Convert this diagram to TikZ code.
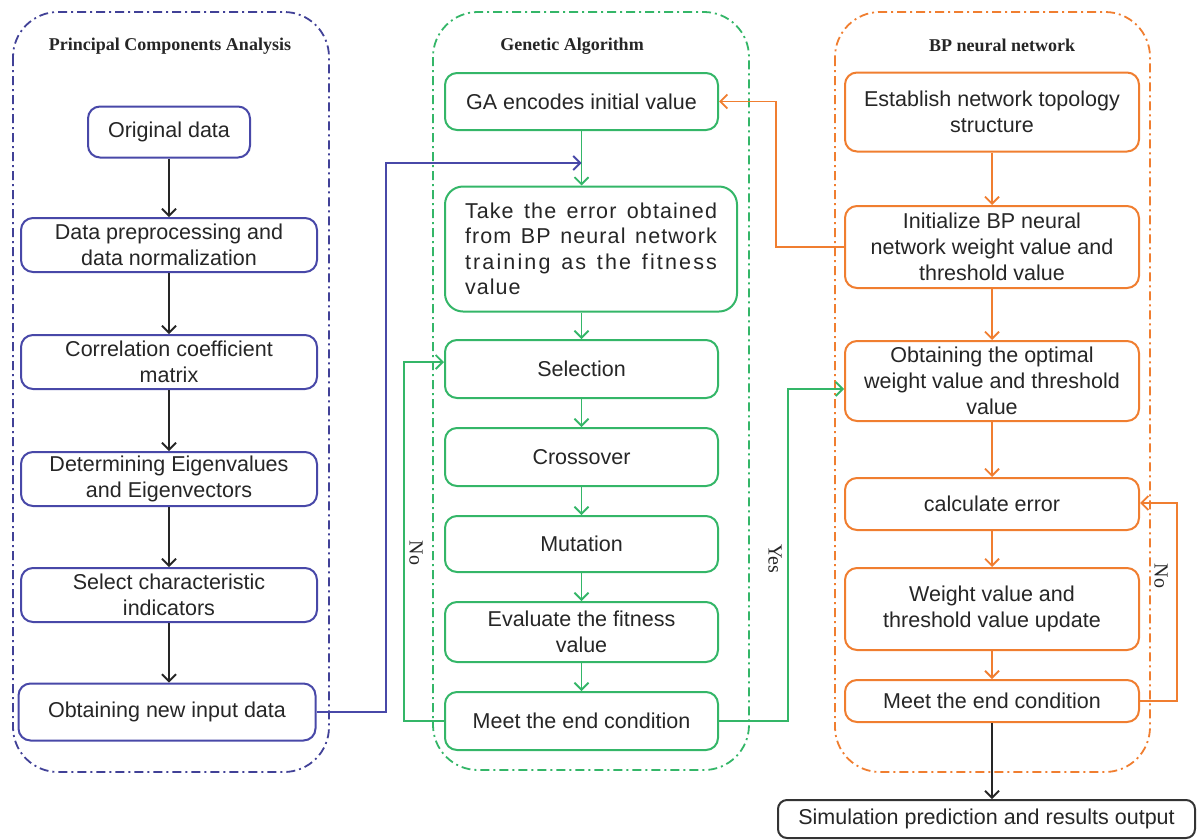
\documentclass[tikz,border=0pt]{standalone}
\usepackage{amsmath}
\usepackage{fontspec}
\setmainfont{Liberation Serif}
\setsansfont{Liberation Sans}
\usepackage{xcolor}
\usepackage{tikz}
\usetikzlibrary{arrows.meta,calc,positioning}
\definecolor{pcablue}{RGB}{72,72,168}
\definecolor{gagreen}{RGB}{52,182,104}
\definecolor{bporange}{RGB}{240,126,48}

\begin{document}
\begin{tikzpicture}[x=1pt, y=-1pt,
    box/.style={draw=#1, rounded corners=12pt, line width=2pt, fill=white, text=black!85, align=center, inner sep=0pt,
        font=\sffamily\fontsize{21.5}{26}\selectfont},
    panel/.style={line width=1.8pt, rounded corners=45pt, dash pattern=on 9pt off 4pt on 2pt off 4pt},
    title/.style={font=\fontsize{18}{22}\selectfont\bfseries, text=black!85},
    lab/.style={font=\fontsize{20}{22}\selectfont, rotate=-90, text=black!85},
    flow/.style={-{Straight Barb[length=7pt,width=14pt]}, line width=1.8pt}]
    \useasboundingbox (0,0) rectangle (1202,839);

    \draw[panel, pcablue!90!black] (13,12) rectangle (329,772);
    \draw[panel, gagreen] (433,12) rectangle (749,770);
    \draw[panel, bporange] (835,12) rectangle (1150,772);
    \node[title] (t_pca) at (170,46) {Principal Components Analysis};
    \node[title] (t_ga)  at (572,46) {Genetic Algorithm};
    \node[title] (t_bp)  at (1002,45) {BP neural network};

    \node[box=pcablue, minimum width=162pt, minimum height=51pt] (orig) at (169,132) {Original data};
    \node[box=pcablue, minimum width=296pt, minimum height=54pt] (prep) at (169,245) {Data preprocessing and\\data normalization};
    \node[box=pcablue, minimum width=296pt, minimum height=54pt] (corr) at (169,362) {Correlation coefficient\\matrix};
    \node[box=pcablue, minimum width=296pt, minimum height=54pt] (eig)  at (169,479) {Determining Eigenvalues\\and Eigenvectors};
    \node[box=pcablue, minimum width=296pt, minimum height=54pt] (ind)  at (169,595) {Select characteristic\\indicators};
    \node[box=pcablue, minimum width=297pt, minimum height=57pt] (newin) at (167,712) {Obtaining new input data};

    \node[box=gagreen, minimum width=273pt, minimum height=57pt] (gaenc) at (581.5,101.5) {GA encodes initial value};
    \node[box=gagreen, rounded corners=18pt, minimum width=292pt, minimum height=125pt, align=left,
        font=\sffamily\fontsize{21.5}{25.5}\selectfont\addfontfeature{LetterSpace=5}] (fit) at (591,249)
        {\makebox[252pt][s]{Take the error obtained}\\\makebox[252pt][s]{from BP neural network}\\
         {\addfontfeature{LetterSpace=10}\makebox[252pt][s]{training as the fitness}}\\value};
    \node[box=gagreen, minimum width=273pt, minimum height=58pt] (sel)   at (581.5,369) {Selection};
    \node[box=gagreen, minimum width=273pt, minimum height=58pt] (cross) at (581.5,457) {Crossover};
    \node[box=gagreen, minimum width=273pt, minimum height=56pt] (mut)   at (581.5,544) {Mutation};
    \node[box=gagreen, minimum width=273pt, minimum height=60pt] (evalf) at (581.5,632) {Evaluate the fitness\\value};
    \node[box=gagreen, minimum width=273pt, minimum height=58pt] (endga) at (581.5,721) {Meet the end condition};

    \node[box=bporange, minimum width=294pt, minimum height=79pt] (topo) at (992,112) {Establish network topology\\structure};
    \node[box=bporange, minimum width=294pt, minimum height=82pt] (init) at (992,247) {Initialize BP neural\\network weight value and\\threshold value};
    \node[box=bporange, minimum width=294pt, minimum height=80pt] (opt)  at (992,381) {Obtaining the optimal\\weight value and threshold\\value};
    \node[box=bporange, minimum width=294pt, minimum height=52pt] (calc) at (992,504) {calculate error};
    \node[box=bporange, minimum width=294pt, minimum height=82pt] (upd)  at (992,609) {Weight value and\\threshold value update};
    \node[box=bporange, minimum width=294pt, minimum height=42pt] (endbp) at (992,701) {Meet the end condition};

    \node[box=black!80, rounded corners=9pt, minimum width=417pt, minimum height=38pt] (sim) at (986.5,819) {Simulation prediction and results output};

    \coordinate (bturn) at (386,712);
    \coordinate (bjoin) at (581.5,163);

    \path[flow, black!85]
        (orig) edge (prep)
        (prep) edge (corr)
        (corr) edge (eig)
        (eig) edge (ind)
        (ind) edge (ind |- newin.north)
        (endbp) edge (endbp |- sim.north);
    \path[flow, gagreen]
        (gaenc) edge (gaenc |- fit.north)
        (fit.south -| sel) edge (sel)
        (sel) edge (cross)
        (cross) edge (mut)
        (mut) edge (evalf)
        (evalf) edge (endga);
    \path[flow, bporange]
        (topo) edge (init)
        (init) edge (opt)
        (opt) edge (calc)
        (calc) edge (upd)
        (upd) edge (endbp);

    \draw[flow, pcablue] (newin.east) -- (bturn) |- (bjoin);
    \draw[flow, bporange] (init.west) -- ++(-68,0) |- (gaenc.east);
    \draw[flow, gagreen] (endga.west) -- ++(-40,0) |- ([yshift=7pt]sel.west);
    \draw[flow, gagreen] (endga.east) -- ++(69,0) |- ([yshift=-8pt]opt.west);
    \draw[flow, bporange] (endbp.east) -- ++(37,0) |- ([yshift=1pt]calc.east);

    \node[lab] (no_ga) at (416,553) {No};
    \node[lab] (yes_ga) at (775,559) {Yes};
    \node[lab] (no_bp) at (1161,576) {No};
\end{tikzpicture}
\end{document}
